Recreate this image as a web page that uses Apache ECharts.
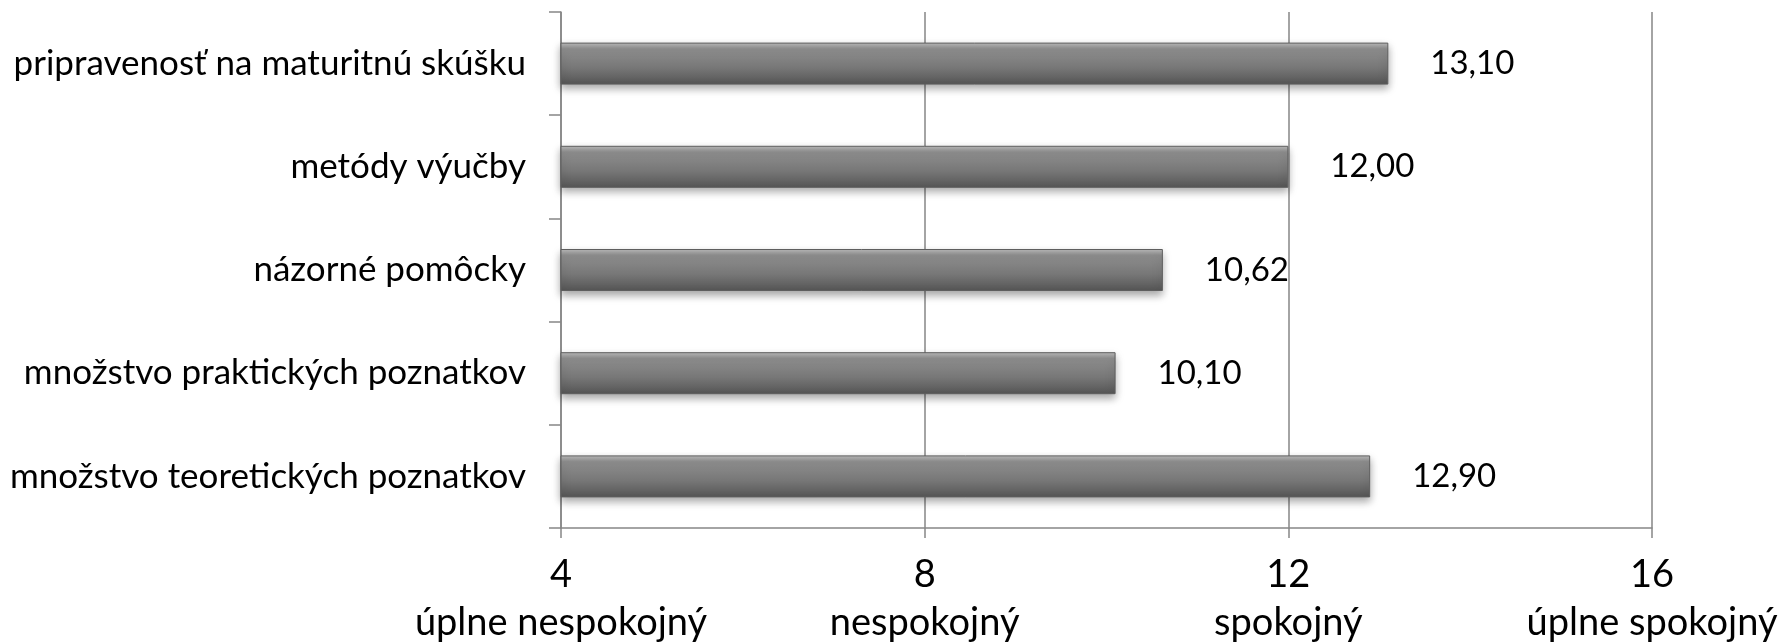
<!DOCTYPE html>
<html>
<head>
<meta charset="utf-8">
<script src="https://cdn.jsdelivr.net/npm/echarts@6/dist/echarts.min.js"></script>
<style>
  html, body { margin: 0; padding: 0; background: #fff; }
  #chart { width: 1789px; height: 644px; }
</style>
</head>
<body>
<div id="chart"></div>
<script>
// categories listed top to bottom
const categories = [
    'pripravenosť na maturitnú skúšku',
    'metódy výučby',
    'názorné pomôcky',
    'množstvo praktických poznatkov',
    'množstvo teoretických poznatkov'
];
const scores = [13.10, 12.00, 10.62, 10.10, 12.90];
const tickValues = [4, 8, 12, 16];
const tickNames = ['úplne nespokojný', 'nespokojný', 'spokojný', 'úplne spokojný'];

const font = 'Lato, "Open Sans", sans-serif';

document.addEventListener("DOMContentLoaded", () => {
    const chart = echarts.init(document.getElementById('chart'));
    chart.setOption({
        animation: false,
        grid: { left: 561, right: 137, top: 12, bottom: 116, outerBoundsMode: 'none' },
        xAxis: {
            type: 'value',
            min: 4,
            max: 16,
            interval: 4,
            axisLine: { show: true, lineStyle: { color: '#868686', width: 1.5 } },
            axisTick: { show: true, length: 10, lineStyle: { color: '#868686', width: 1.5 } },
            splitLine: { show: true, lineStyle: { color: '#868686', width: 1.5 } },
            axisLabel: {
                margin: 23,
                fontFamily: font,
                fontSize: 38,
                lineHeight: 48,
                color: '#000',
                formatter: v => {
                    const i = tickValues.indexOf(v);
                    return i < 0 ? '' : v + '\n' + tickNames[i];
                }
            }
        },
        yAxis: {
            type: 'category',
            inverse: true,
            data: categories,
            axisLine: { show: true, lineStyle: { color: '#868686', width: 1.5 } },
            axisTick: { show: true, length: 12, lineStyle: { color: '#868686', width: 1.5 } },
            axisLabel: {
                margin: 35,
                fontFamily: font,
                fontSize: 35,
                color: '#000'
            }
        },
        series: [{
            type: 'bar',
            data: scores,
            barWidth: 42,
            itemStyle: {
                color: {
                    type: 'linear', x: 0, y: 0, x2: 0, y2: 1,
                    colorStops: [
                        { offset: 0, color: '#bcbcbc' },
                        { offset: 0.15, color: '#8e8e8e' },
                        { offset: 0.6, color: '#777777' },
                        { offset: 1, color: '#555555' }
                    ]
                },
                borderColor: '#5e5e5e',
                borderWidth: 1,
                shadowColor: 'rgba(0,0,0,0.35)',
                shadowBlur: 8,
                shadowOffsetY: 4
            },
            label: {
                show: true,
                position: 'right',
                distance: 42,
                fontFamily: font,
                fontSize: 33,
                color: '#000',
                formatter: p => p.value.toFixed(2).replace('.', ',')
            }
        }]
    });
});
</script>
</body>
</html>
